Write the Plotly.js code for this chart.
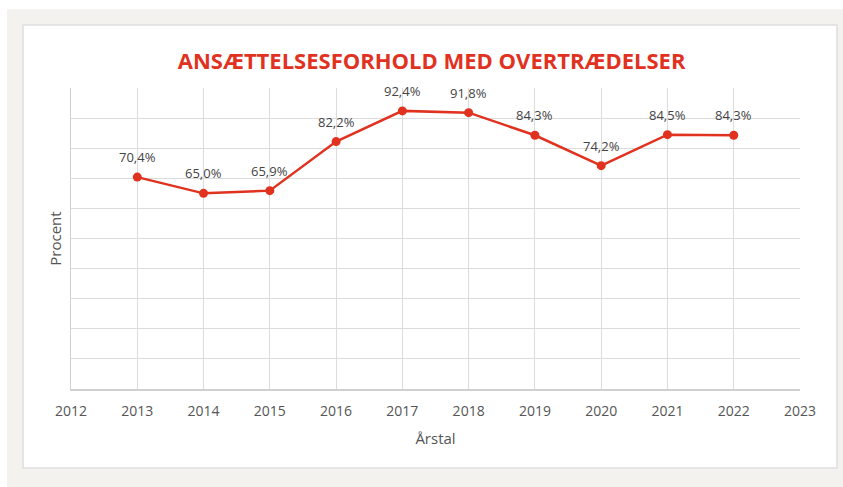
<!DOCTYPE html>
<html><head><meta charset="utf-8">
<script src="https://cdn.plot.ly/plotly-3.0.1.min.js"></script>
<style>html,body{margin:0;padding:0;background:#fff}#c{width:843px;height:487px}</style>
</head><body><div id="c"></div>
<script>
const years = [2013, 2014, 2015, 2016, 2017, 2018, 2019, 2020, 2021, 2022];
const values = [70.4, 65.0, 65.9, 82.2, 92.4, 91.8, 84.3, 74.2, 84.5, 84.3];
const labels = values.map(v => v.toFixed(1).replace('.', ',') + '%');
const titleText = 'ANSÆTTELSESFORHOLD MED OVERTRÆDELSER';

const L = 71, R = 800, T = 88, B = 389, W = 843, H = 487;
const px = x => (x - L) / (R - L);
const py = y => (B - y) / (B - T);

const trace = {
  x: years, y: values, type: 'scatter', mode: 'lines+markers',
  line: {color: '#e0321f', width: 2.5},
  marker: {color: '#e0321f', size: 9},
  cliponaxis: false, hoverinfo: 'skip'
};

const annotations = years.map((yr, i) => ({
  x: yr, y: values[i], xref: 'x', yref: 'y', text: labels[i], showarrow: false,
  yanchor: 'middle', xanchor: 'center', yshift: 20,
  font: {family: 'Open Sans, sans-serif', size: 13, color: '#444'}
}));

const layout = {
  width: W, height: H,
  margin: {l: L, r: W - R, t: T, b: H - B},
  paper_bgcolor: '#ffffff', plot_bgcolor: 'rgba(0,0,0,0)',
  showlegend: false,
  annotations: annotations,
  title: {text: '<b>' + titleText + '</b>', font: {family: 'Open Sans, sans-serif', size: 22, color: '#e0321f'},
          x: 0.512, xanchor: 'center', y: 1 - 61 / H, yanchor: 'middle'},
  xaxis: {range: [2012, 2023], dtick: 1, tick0: 2012, showgrid: true, gridcolor: '#dcdcdc', gridwidth: 1,
          showline: true, linecolor: '#d0d0d0', linewidth: 1.5, zeroline: false,
          ticks: 'outside', ticklen: 9, tickcolor: 'rgba(0,0,0,0)',
          tickfont: {family: 'Open Sans, sans-serif', size: 14, color: '#555'},
          title: {text: 'Årstal', font: {family: 'Open Sans, sans-serif', size: 15, color: '#555'}, standoff: 14},
          fixedrange: true},
  yaxis: {range: [0, 100], dtick: 10, showgrid: true, gridcolor: '#dcdcdc', gridwidth: 1,
          showline: true, linecolor: '#d0d0d0', linewidth: 1.5, zeroline: false, showticklabels: false, ticks: '',
          title: {text: 'Procent', font: {family: 'Open Sans, sans-serif', size: 15, color: '#555'}, standoff: 4},
          fixedrange: true},
  shapes: [
    {type: 'rect', xref: 'paper', yref: 'paper', x0: px(7), x1: px(843), y0: py(487), y1: py(9),
     fillcolor: '#f4f2ee', line: {width: 0}, layer: 'below'},
    {type: 'rect', xref: 'paper', yref: 'paper', x0: px(23), x1: px(837), y0: py(468), y1: py(25),
     fillcolor: '#ffffff', line: {color: '#dedede', width: 1.5}, layer: 'below'}
  ]
};

Plotly.newPlot('c', [trace], layout, {displayModeBar: false, staticPlot: true});
</script></body></html>
